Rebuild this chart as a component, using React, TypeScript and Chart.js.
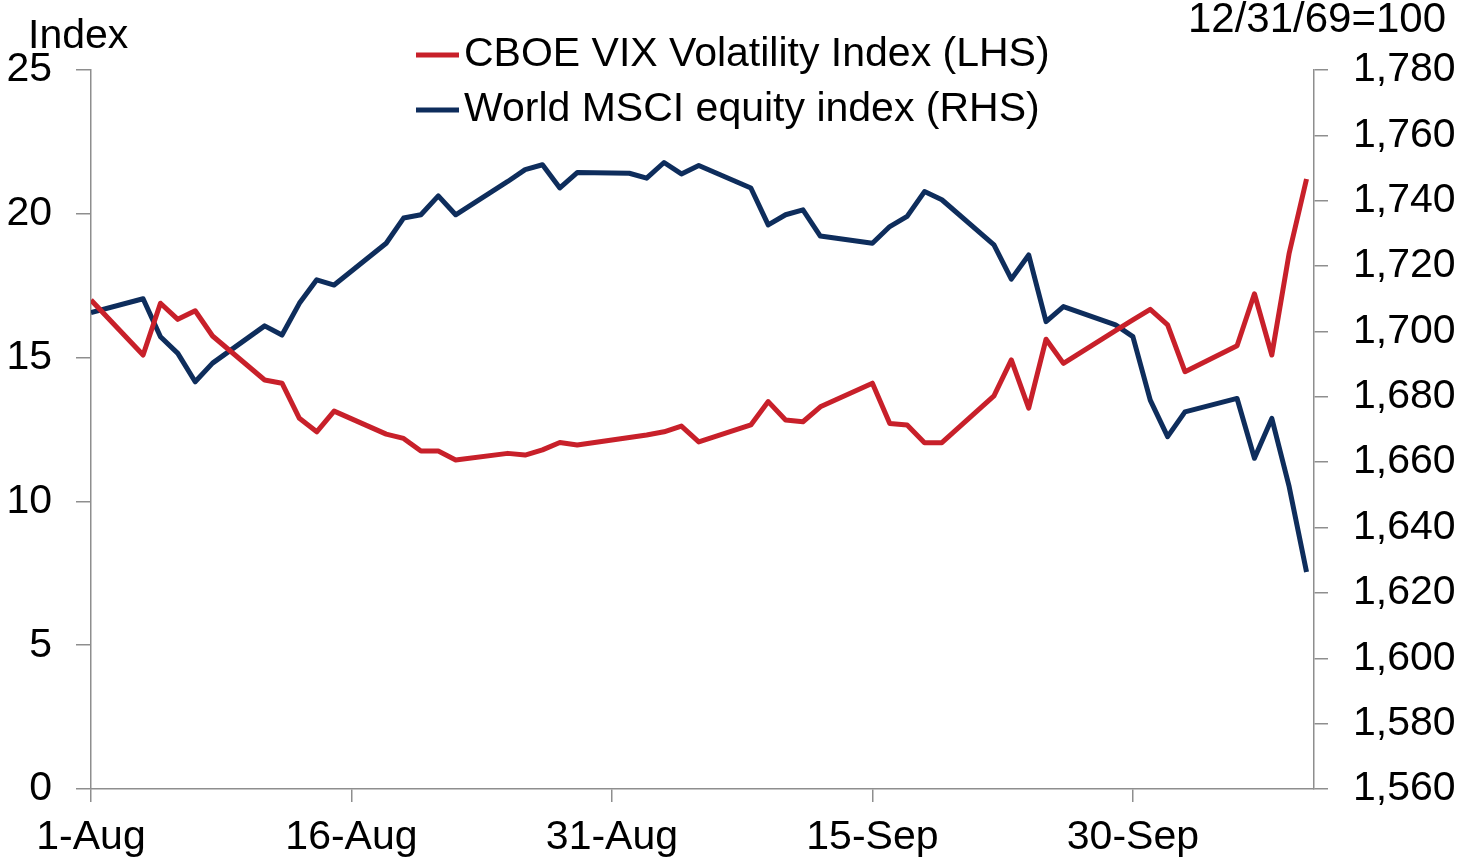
import React, { useEffect, useRef } from "react";
import { Chart, registerables } from "chart.js";

Chart.register(...registerables);

// Business days, 1 Aug 2014 – 10 Oct 2014
const dates = [
  "2014-08-01",
  "2014-08-04", "2014-08-05", "2014-08-06", "2014-08-07", "2014-08-08",
  "2014-08-11", "2014-08-12", "2014-08-13", "2014-08-14", "2014-08-15",
  "2014-08-18", "2014-08-19", "2014-08-20", "2014-08-21", "2014-08-22",
  "2014-08-25", "2014-08-26", "2014-08-27", "2014-08-28", "2014-08-29",
  "2014-09-01", "2014-09-02", "2014-09-03", "2014-09-04", "2014-09-05",
  "2014-09-08", "2014-09-09", "2014-09-10", "2014-09-11", "2014-09-12",
  "2014-09-15", "2014-09-16", "2014-09-17", "2014-09-18", "2014-09-19",
  "2014-09-22", "2014-09-23", "2014-09-24", "2014-09-25", "2014-09-26",
  "2014-09-29", "2014-09-30", "2014-10-01", "2014-10-02", "2014-10-03",
  "2014-10-06", "2014-10-07", "2014-10-08", "2014-10-09", "2014-10-10",
];

// CBOE VIX (LHS) – no US trading on 1 Sep
const vix: (number | null)[] = [
  17.0,
  15.09, 16.89, 16.33, 16.63, 15.75,
  14.22, 14.11, 12.89, 12.42, 13.14,
  12.34, 12.19, 11.75, 11.75, 11.44,
  11.67, 11.61, 11.79, 12.05, 11.96,
  null, 12.31, 12.42, 12.62, 12.07,
  12.66, 13.47, 12.83, 12.77, 13.29,
  14.11, 12.71, 12.66, 12.04, 12.04,
  13.67, 14.92, 13.24, 15.64, 14.8,
  15.94, 16.31, 16.68, 16.14, 14.51,
  15.41, 17.22, 15.09, 18.63, 21.21,
];

// World MSCI equity index (RHS)
const msci: number[] = [
  1705.8,
  1710.0, 1698.4, 1693.3, 1684.6, 1690.3,
  1701.7, 1698.9, 1708.6, 1715.8, 1714.2,
  1727.0, 1734.7, 1735.7, 1741.5, 1735.7,
  1745.9, 1749.5, 1751.0, 1743.9, 1748.6,
  1748.4, 1746.9, 1751.7, 1748.2, 1750.8,
  1743.9, 1732.6, 1735.7, 1737.2, 1729.2,
  1727.0, 1732.1, 1735.2, 1742.8, 1740.3,
  1726.5, 1716.0, 1723.4, 1703.0, 1707.6,
  1702.0, 1698.4, 1679.0, 1667.8, 1675.4,
  1679.5, 1661.2, 1673.4, 1652.5, 1626.4,
];

const xTickDays = [0, 15, 30, 45, 60];
const xTickLabels = ["1-Aug", "16-Aug", "31-Aug", "15-Sep", "30-Sep"];

const vixLabel = "CBOE VIX Volatility Index (LHS)";
const msciLabel = "World MSCI equity index (RHS)";
const leftTitle = "Index";
const rightTitle = "12/31/69=100";

const RED = "#c8202a";
const BLUE = "#0e2d5c";
const AXIS = "#8e8e8e";
const TEXT = "#000";
const FONT = '"Liberation Sans", Arial, Helvetica, sans-serif';

const DAY = 86400000;
const t0 = Date.parse(dates[0]);
const dayOffsets = dates.map((d) => Math.round((Date.parse(d) - t0) / DAY));

const overlayPlugin = {
  id: "overlay",
  afterDraw(chart: any) {
    const ctx = chart.ctx as CanvasRenderingContext2D;
    ctx.save();
    ctx.fillStyle = TEXT;
    ctx.textBaseline = "alphabetic";
    ctx.font = `41px ${FONT}`;
    ctx.textAlign = "left";
    ctx.fillText(leftTitle, 28, 48);
    ctx.font = `42px ${FONT}`;
    ctx.textAlign = "right";
    ctx.fillText(rightTitle, 1446, 32);

    const items = chart.data.datasets;
    items.forEach((ds: any, i: number) => {
      const y = 55 + i * 55;
      ctx.strokeStyle = ds.borderColor;
      ctx.lineWidth = 5;
      ctx.beginPath();
      ctx.moveTo(416, y);
      ctx.lineTo(459, y);
      ctx.stroke();
      ctx.font = `41px ${FONT}`;
      ctx.textAlign = "left";
      ctx.textBaseline = "middle";
      ctx.fillStyle = TEXT;
      ctx.fillText(ds.label, 464, y);
    });
    ctx.restore();
  },
};

export default function App() {
  const ref = useRef<HTMLCanvasElement | null>(null);

  useEffect(() => {
    if (!ref.current) return;
    const tickFont = { family: FONT, size: 41 };
    const chart = new Chart(ref.current, {
      type: "line",
      data: {
        datasets: [
          {
            label: vixLabel,
            data: dayOffsets.map((x, i) => ({ x, y: vix[i] })),
            borderColor: RED,
            backgroundColor: RED,
            borderWidth: 5,
            pointRadius: 0,
            tension: 0,
            spanGaps: true,
            borderJoinStyle: "round",
            yAxisID: "y",
          },
          {
            label: msciLabel,
            data: dayOffsets.map((x, i) => ({ x, y: msci[i] })),
            borderColor: BLUE,
            backgroundColor: BLUE,
            borderWidth: 5,
            pointRadius: 0,
            tension: 0,
            borderJoinStyle: "round",
            yAxisID: "y2",
          },
        ],
      },
      options: {
        responsive: false,
        animation: false,
        layout: { padding: { top: 70, left: 0, right: 0, bottom: 0 } },
        plugins: {
          legend: { display: false },
          tooltip: { enabled: false },
          title: { display: false },
        },
        scales: {
          x: {
            type: "linear",
            min: 0,
            max: 70.43,
            offset: false,
            afterBuildTicks: (scale: any) => {
              scale.ticks = xTickDays.map((v) => ({ value: v }));
            },
            afterFit: (scale: any) => {
              scale.height = 69;
            },
            ticks: {
              autoSkip: false,
              maxRotation: 0,
              minRotation: 0,
              padding: 11,
              color: TEXT,
              font: tickFont,
              callback: (v: any) => {
                const idx = xTickDays.indexOf(Number(v));
                return idx >= 0 ? xTickLabels[idx] : "";
              },
            },
            grid: {
              display: true,
              drawOnChartArea: false,
              drawTicks: true,
              tickLength: 13,
              color: AXIS,
              lineWidth: 1.5,
            },
            border: { display: true, color: AXIS, width: 1.5 },
          },
          y: {
            position: "left",
            min: 0,
            max: 25,
            afterFit: (scale: any) => {
              scale.width = 91;
            },
            ticks: {
              stepSize: 5,
              padding: 24,
              color: TEXT,
              font: tickFont,
            },
            grid: {
              display: true,
              drawOnChartArea: false,
              drawTicks: true,
              tickLength: 15,
              color: AXIS,
              lineWidth: 1.5,
            },
            border: { display: true, color: AXIS, width: 1.5 },
          },
          y2: {
            position: "right",
            min: 1560,
            max: 1780,
            afterFit: (scale: any) => {
              scale.width = 150;
            },
            ticks: {
              stepSize: 20,
              padding: 25,
              color: TEXT,
              font: tickFont,
              callback: (v: any) => Number(v).toLocaleString("en-US"),
            },
            grid: {
              display: true,
              drawOnChartArea: false,
              drawTicks: true,
              tickLength: 14,
              color: AXIS,
              lineWidth: 1.5,
            },
            border: { display: true, color: AXIS, width: 1.5 },
          },
        },
      },
      plugins: [overlayPlugin],
    } as any);
    return () => chart.destroy();
  }, []);

  return (
    <div
      style={{
        position: "fixed",
        left: 0,
        top: 0,
        width: 1464,
        height: 858,
        background: "#fff",
      }}
    >
      <canvas ref={ref} width={1464} height={858} style={{ display: "block" }} />
    </div>
  );
}
